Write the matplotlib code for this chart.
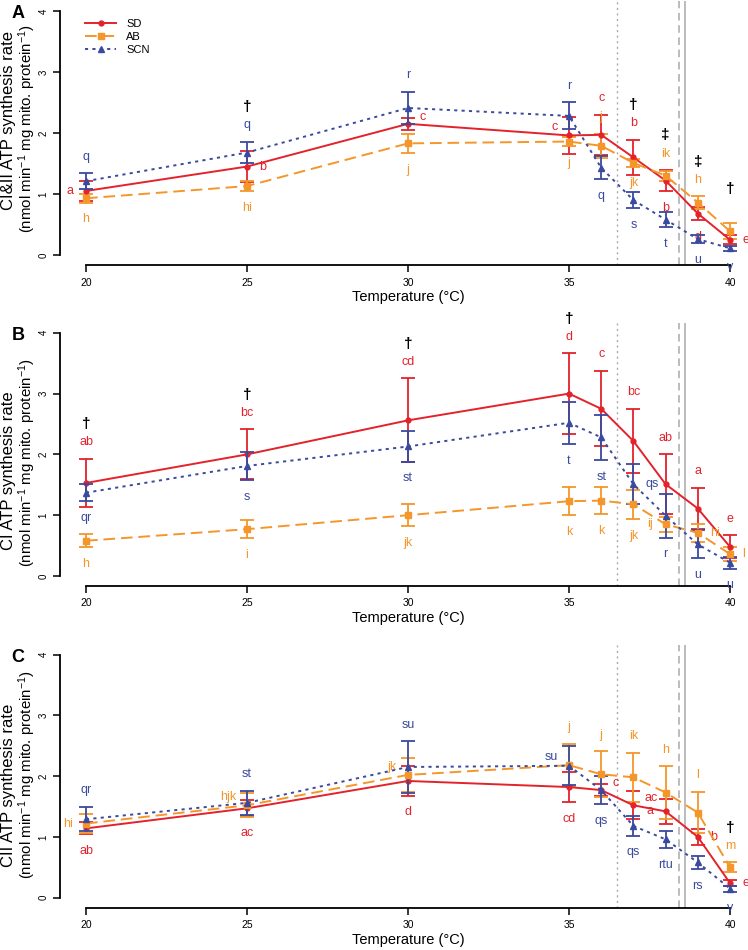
import matplotlib
matplotlib.use('Agg')
import matplotlib.pyplot as plt
from matplotlib.lines import Line2D
from matplotlib.transforms import blended_transform_factory

plt.rcParams['font.family'] = ['Liberation Sans', 'DejaVu Sans']
plt.rcParams['mathtext.fontset'] = 'custom'
plt.rcParams['mathtext.rm'] = 'Liberation Sans'
plt.rcParams['mathtext.default'] = 'regular'

temps = [20, 25, 30, 35, 36, 37, 38, 39, 40]
groups = ['SD', 'AB', 'SCN']

# panel A: CI&II
a_sd = [1.05, 1.45, 2.15, 1.96, 1.97, 1.60, 1.22, 0.68, 0.25]
a_sd_se = [0.16, 0.25, 0.10, 0.30, 0.33, 0.29, 0.17, 0.11, 0.07]
a_ab = [0.93, 1.13, 1.83, 1.86, 1.79, 1.51, 1.30, 0.86, 0.39]
a_ab_se = [0.07, 0.08, 0.16, 0.08, 0.20, 0.06, 0.08, 0.10, 0.13]
a_scn = [1.21, 1.68, 2.41, 2.28, 1.43, 0.90, 0.58, 0.26, 0.11]
a_scn_se = [0.13, 0.18, 0.27, 0.22, 0.19, 0.13, 0.12, 0.07, 0.04]
a_sd_let = ['a', 'b', 'c', 'c', 'c', 'b', 'b', 'd', 'e']
a_ab_let = ['h', 'hi', 'j', 'j', 'j', 'jk', 'ik', 'h', '']
a_scn_let = ['q', 'q', 'r', 'r', 'q', 's', 't', 'u', 'v']
a_marks = {25: '†', 37: '†', 38: '‡', 39: '‡', 40: '†'}

# panel B: CI
b_sd = [1.53, 2.00, 2.56, 3.00, 2.75, 2.22, 1.51, 1.11, 0.48]
b_sd_se = [0.40, 0.41, 0.69, 0.66, 0.62, 0.53, 0.49, 0.34, 0.19]
b_ab = [0.58, 0.77, 1.00, 1.23, 1.24, 1.18, 0.85, 0.71, 0.36]
b_ab_se = [0.11, 0.15, 0.18, 0.23, 0.22, 0.24, 0.12, 0.15, 0.11]
b_scn = [1.37, 1.81, 2.13, 2.52, 2.28, 1.51, 0.99, 0.52, 0.22]
b_scn_se = [0.14, 0.23, 0.25, 0.35, 0.37, 0.33, 0.36, 0.23, 0.10]
b_sd_let = ['ab', 'bc', 'cd', 'd', 'c', 'bc', 'ab', 'a', 'e']
b_ab_let = ['h', 'i', 'jk', 'k', 'k', 'jk', 'ij', 'hi', 'l']
b_scn_let = ['qr', 's', 'st', 't', 'st', 'qs', 'r', 'u', 'u']
b_marks = {20: '†', 25: '†', 30: '†', 35: '†'}

# panel C: CII
c_sd = [1.14, 1.47, 1.92, 1.82, 1.77, 1.52, 1.42, 1.00, 0.24]
c_sd_se = [0.10, 0.13, 0.24, 0.25, 0.10, 0.23, 0.20, 0.13, 0.05]
c_ab = [1.22, 1.52, 2.02, 2.18, 2.03, 1.98, 1.73, 1.40, 0.50]
c_ab_se = [0.15, 0.20, 0.28, 0.35, 0.38, 0.40, 0.43, 0.34, 0.08]
c_scn = [1.29, 1.56, 2.15, 2.17, 1.77, 1.18, 0.96, 0.58, 0.15]
c_scn_se = [0.20, 0.20, 0.42, 0.32, 0.23, 0.16, 0.14, 0.11, 0.05]
c_sd_let = ['ab', 'ac', 'd', 'cd', 'c', 'ac', 'a', 'b', 'e']
c_ab_let = ['hi', 'hjk', 'jk', 'j', 'j', 'ik', 'h', 'l', 'm']
c_scn_let = ['qr', 'st', 'su', 'su', 'qs', 'qs', 'rtu', 'rs', 'v']
c_marks = {40: '†'}

# where each letter sits relative to its point (layout only)
a_sd_pos = ['l', 'r', 'ur', 'ul', 'a', 'a', 'b', 'b', 'r']
a_ab_pos = ['b', 'b', 'b', 'b', 'a', 'b', 'a', 'a', 'r']
a_scn_pos = ['a', 'a', 'a', 'a', 'b', 'b', 'b', 'b', 'b']
b_sd_pos = ['a'] * 9
b_ab_pos = ['b', 'b', 'b', 'b', 'b', 'b', 'l', 'r', 'r']
b_scn_pos = ['b', 'b', 'b', 'b', 'b', 'r', 'b', 'b', 'b']
c_sd_pos = ['b', 'b', 'b', 'b', 'ur', 'ur', 'l', 'r', 'r']
c_ab_pos = ['l', 'ul', 'ul', 'a', 'a', 'a', 'a', 'a', 'a']
c_scn_pos = ['a', 'a', 'a', 'ul', 'b', 'b', 'b', 'b', 'b']

ylabels = ['CI&II ATP synthesis rate', 'CI ATP synthesis rate', 'CII ATP synthesis rate']
unit = r'(nmol min$^{-1}$ mg mito. protein$^{-1}$)'
# vertical centres of the two y-label lines (data units)
ylab_centres = [(2.2, 2.07), (1.74, 1.87), (1.84, 2.02)]

red = '#e3222b'
orange = '#f5962a'
blue = '#3a4a9e'
grey = '#aaaaaa'
colors = [red, orange, blue]
markers = ['o', 's', '^']
msizes = [3.5, 4, 4.5]
styles = ['-', (0, (6, 3)), (0, (1.6, 2.2))]

W, H = 748, 950
# panel rects in pixels: (y of zero, px per unit)
panels = [(255, 61.0), (576, 60.8), (897.7, 60.8)]
x0_px, x_scale = 86, 32.2
left_px = 59.5

fig = plt.figure(figsize=(W / 100, H / 100), dpi=100)

offs = {'a': (0, 12, 'center', 'center'), 'b': (0, -12, 'center', 'center'),
        'l': (-9, 0, 'right', 'center'), 'r': (9, 0, 'left', 'center'),
        'ul': (-8, 6, 'right', 'center'), 'ur': (8, 5, 'left', 'center')}


def draw_panel(ax, series, letters, positions, marks, ylab, ycen):
    xmin = 20 - (x0_px - left_px) / x_scale
    xmax = 20 + (W - x0_px) / x_scale
    ax.set_xlim(xmin, xmax)
    ax.set_ylim(-0.164, 4.164)
    ax.axvline(36.5, color=grey, lw=1, ls=(0, (1.5, 2.5)), zorder=0)
    ax.axvline(38.42, color=grey, lw=1.1, ls=(0, (5, 3)), zorder=0)
    ax.axvline(38.6, color=grey, lw=1.1, zorder=0)

    order = [2, 1, 0]
    for i in order:
        m, se = series[i]
        ax.errorbar(temps, m, yerr=se, color=colors[i], ls='none', elinewidth=1.3,
                    capsize=5, capthick=1.3, zorder=2 + i)
        ax.plot(temps, m, color=colors[i], ls=styles[i], lw=1.4, marker=markers[i],
                ms=msizes[i], zorder=3 + i)

    for i in range(3):
        m, se = series[i]
        for t, v, s, lab, p in zip(temps, m, se, letters[i], positions[i]):
            if not lab:
                continue
            dx, dy, ha, va = offs[p]
            y = v + s if p == 'a' else (v - s if p == 'b' else v)
            ax.annotate(lab, (t, y), xytext=(dx, dy), textcoords='offset points',
                        ha=ha, va=va, color=colors[i], fontsize=9, annotation_clip=False)

    for t, sym in marks.items():
        k = temps.index(t)
        top = max(series[i][0][k] + series[i][1][k] for i in range(3))
        ax.annotate(sym, (t, top), xytext=(0, 25), textcoords='offset points',
                    ha='center', va='center', fontsize=11, fontweight='bold',
                    color='black', annotation_clip=False)

    for s in ['top', 'right']:
        ax.spines[s].set_visible(False)
    ax.spines['left'].set_bounds(0, 4)
    ax.spines['bottom'].set_bounds(20, 40)
    ax.spines['left'].set_linewidth(1.3)
    ax.spines['bottom'].set_linewidth(1.3)
    ax.set_xticks([20, 25, 30, 35, 40])
    ax.set_yticks([0, 1, 2, 3, 4])
    ax.tick_params(axis='both', direction='out', length=5, width=1.1)
    ax.tick_params(axis='x', labelsize=7.5, pad=4)
    ax.tick_params(axis='y', labelsize=7, pad=3, labelrotation=90)
    for lbl in ax.get_yticklabels():
        lbl.set_va('center')

    tr = blended_transform_factory(fig.transFigure, ax.transData)
    ax.text(9 / W, ycen[0], ylab, transform=tr, rotation=90,
            ha='center', va='center', fontsize=12)
    ax.text(27 / W, ycen[1], unit, transform=tr, rotation=90,
            ha='center', va='center', fontsize=10.8)
    ax.annotate('Temperature (°C)', (30, 0), xycoords=('data', 'axes fraction'),
                xytext=(0, -23), textcoords='offset points', ha='center',
                va='center', fontsize=10.5)
    return ax


all_series = [
    [(a_sd, a_sd_se), (a_ab, a_ab_se), (a_scn, a_scn_se)],
    [(b_sd, b_sd_se), (b_ab, b_ab_se), (b_scn, b_scn_se)],
    [(c_sd, c_sd_se), (c_ab, c_ab_se), (c_scn, c_scn_se)],
]
all_letters = [[a_sd_let, a_ab_let, a_scn_let], [b_sd_let, b_ab_let, b_scn_let],
               [c_sd_let, c_ab_let, c_scn_let]]
all_pos = [[a_sd_pos, a_ab_pos, a_scn_pos], [b_sd_pos, b_ab_pos, b_scn_pos],
           [c_sd_pos, c_ab_pos, c_scn_pos]]
all_marks = [a_marks, b_marks, c_marks]
tags = ['A', 'B', 'C']

for k, (zero_px, scale) in enumerate(panels):
    bottom_px = zero_px + 0.164 * scale
    top_px = zero_px - 4.164 * scale
    ax = fig.add_axes([left_px / W, 1 - bottom_px / H, (W - left_px) / W,
                       (bottom_px - top_px) / H])
    ax.patch.set_alpha(0)
    draw_panel(ax, all_series[k], all_letters[k], all_pos[k], all_marks[k],
               ylabels[k], ylab_centres[k])
    fig.text(18 / W, 1 - (top_px + 13) / H, tags[k], fontsize=13,
             fontweight='bold', ha='center', va='center')
    if k == 0:
        handles = [Line2D([], [], color=colors[i], ls=styles[i], lw=1.4,
                          marker=markers[i], ms=msizes[i]) for i in range(3)]
        ax.legend(handles, groups, loc='upper left',
                  bbox_to_anchor=((85 - left_px) / (W - left_px), 1 - 18 / (bottom_px - top_px)),
                  frameon=False, fontsize=8, handlelength=2.8, handletextpad=0.9,
                  labelspacing=0.25, borderpad=0, borderaxespad=0)

fig.savefig('out.png', dpi=100)
